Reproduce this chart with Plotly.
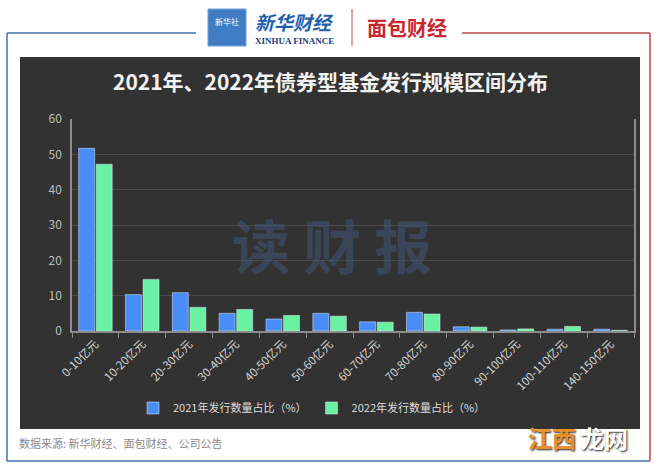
import plotly.graph_objects as go

categories = ["0-10亿元", "10-20亿元", "20-30亿元", "30-40亿元", "40-50亿元", "50-60亿元",
              "60-70亿元", "70-80亿元", "80-90亿元", "90-100亿元", "100-110亿元", "140-150亿元"]
share_2021 = [51.7, 10.3, 10.85, 5.0, 3.4, 5.0, 2.6, 5.3, 1.2, 0.3, 0.5, 0.5]
share_2022 = [47.2, 14.6, 6.7, 6.1, 4.4, 4.2, 2.5, 4.8, 1.1, 0.6, 1.3, 0.2]
name_2021 = "2021年发行数量占比（%）"
name_2022 = "2022年发行数量占比（%）"
y_ticks = [0, 10, 20, 30, 40, 50, 60]

W, H = 660, 465
L, R, T, B = 72, 634, 119, 331  # plot area in pixels


def px(x):
    return (x - L) / (R - L)


def py(y):
    return (B - y) / (B - T)


FONT = "Noto Sans CJK SC, Open Sans, sans-serif"
PANEL = "#323232"

fig = go.Figure()
fig.add_trace(go.Bar(x=categories, y=share_2021, name=name_2021, marker_color="#4b8df8"))
fig.add_trace(go.Bar(x=categories, y=share_2022, name=name_2022, marker_color="#69f2a4"))

shapes = [
    # dark panel
    dict(type="rect", xref="paper", yref="paper", x0=px(20), x1=px(640), y0=py(57), y1=py(429),
         fillcolor=PANEL, line_width=0, layer="below"),
    # blue frame (left / top-left / bottom)
    dict(type="line", xref="paper", yref="paper", x0=px(7), x1=px(196), y0=py(33), y1=py(33),
         line=dict(color="#3e6fa8", width=1.5)),
    dict(type="line", xref="paper", yref="paper", x0=px(7), x1=px(7), y0=py(33), y1=py(461),
         line=dict(color="#3e6fa8", width=1.5)),
    dict(type="line", xref="paper", yref="paper", x0=px(7), x1=px(650), y0=py(461), y1=py(461),
         line=dict(color="#3e6fa8", width=1.5)),
    # red frame (top-right / right)
    dict(type="line", xref="paper", yref="paper", x0=px(462), x1=px(650), y0=py(33), y1=py(33),
         line=dict(color="#b8484a", width=1.5)),
    dict(type="line", xref="paper", yref="paper", x0=px(650), x1=px(650), y0=py(33), y1=py(461),
         line=dict(color="#b8484a", width=1.5)),
    # logo icon
    dict(type="rect", xref="paper", yref="paper", x0=px(208), x1=px(246), y0=py(9), y1=py(46),
         fillcolor="#3f7cc4", line=dict(color="#6fa0d8", width=1)),
    # separator
    dict(type="line", xref="paper", yref="paper", x0=px(352), x1=px(352), y0=py(9), y1=py(46),
         line=dict(color="#c94a4a", width=1)),
]

annotations = [
    dict(text="<b>2021年、2022年债券型基金发行规模区间分布</b>", x=px(330), y=py(81),
         font=dict(size=21, color="#f2f2f2", family=FONT)),
    dict(text="<b>读 财 报</b>", x=px(332), y=py(244),
         font=dict(size=58, color="rgba(66,88,120,0.55)", family=FONT)),
    dict(text="数据来源: 新华财经、面包财经、公司公告", x=px(17), y=py(443), xanchor="left",
         font=dict(size=11, color="#8a8a8a", family=FONT)),
    dict(text="<b>江西</b>", x=px(578), y=py(437), xanchor="right",
         font=dict(size=24, color="#e8902a", family=FONT, shadow="1px 1px 2px #222")),
    dict(text="<b>龙网</b>", x=px(578), y=py(437), xanchor="left",
         font=dict(size=24, color="#ffffff", family=FONT, shadow="1px 1px 2px #222")),
    # logo texts
    dict(text="新华社", x=px(227), y=py(21), font=dict(size=8, color="white", family=FONT)),
    dict(text="<b><i>新华财经</i></b>", x=px(294), y=py(21),
         font=dict(size=19, color="#1f5fae", family=FONT)),
    dict(text="<b>XINHUA FINANCE</b>", x=px(294), y=py(41),
         font=dict(size=9, color="#1d3e7a", family="Liberation Serif, serif")),
    dict(text="<b>面包财经</b>", x=px(407), y=py(28),
         font=dict(size=20, color="#c8282d", family=FONT)),
]
for a in annotations:
    a.setdefault("xref", "paper")
    a.setdefault("yref", "paper")
    a.setdefault("showarrow", False)
    a.setdefault("xanchor", "center")
    a.setdefault("yanchor", "middle")

fig.update_layout(
    width=W, height=H,
    margin=dict(l=L, r=W - R, t=T, b=H - B, autoexpand=False),
    paper_bgcolor="white",
    plot_bgcolor="rgba(0,0,0,0)",
    barmode="group", bargap=0.25, bargroupgap=0.09,
    font=dict(family=FONT, color="#cccccc"),
    showlegend=True,
    legend=dict(orientation="h", x=px(312), xanchor="center", y=py(408), yanchor="middle",
                font=dict(size=11, color="#dddddd", family=FONT), bgcolor="rgba(0,0,0,0)"),
    shapes=shapes,
    annotations=annotations,
)
fig.update_xaxes(
    tickangle=-45, showline=True, linecolor="#8c8c8c", linewidth=1.5, automargin=False,
    ticks="outside", tickson="boundaries", ticklen=5, tickcolor="#8c8c8c",
    tickfont=dict(size=11.5, color="#d4d4d4"), showgrid=False,
)
fig.update_yaxes(
    range=[0, 60], tickvals=y_ticks, showline=True, mirror=True, linecolor="#8c8c8c",
    linewidth=1.5, gridcolor="#4a4a4a", gridwidth=1, zeroline=False, automargin=False,
    tickfont=dict(size=12, color="#bdbdbd"), ticks="", ticklabelstandoff=6,
)

fig.write_html("out.html", config={"displayModeBar": False},
               post_script="document.body.style.margin='0';")
